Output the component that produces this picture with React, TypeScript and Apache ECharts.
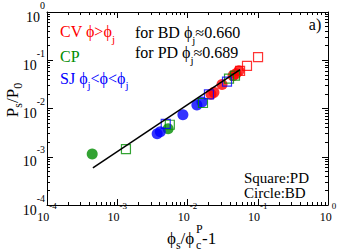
import React, { useEffect, useRef } from 'react';
import * as echarts from 'echarts';

const FONT = "'Liberation Serif', 'DejaVu Serif', serif";
const RED = '#ff0000';
const GREEN = '#008c00';
const BLUE = '#0000ff';

// axis ticks (decades, log axes)
const decades = [1e-4, 1e-3, 1e-2, 1e-1, 1];
const minorMultipliers = [2, 3, 4, 5, 6, 7, 8, 9];
const minorTicks = decades
  .slice(0, -1)
  .flatMap((d) => minorMultipliers.map((m) => +(d * m).toPrecision(3)));

// Circle: BD
const cvCirclesBD = [
  [0.0216, 0.0197],
  [0.0238, 0.0216],
  [0.031, 0.0314],
  [0.0445, 0.048],
  [0.049, 0.0526],
  [0.054, 0.0605],
];
const cpCirclesBD = [
  [4.4e-4, 1.14e-3],
  [5.3e-3, 3.8e-3],
];
const sjCirclesBD = [
  [4.1e-3, 3.3e-3],
  [3.7e-3, 3.0e-3],
  [8.6e-3, 7.4e-3],
  [0.0136, 0.0118],
  [0.0161, 0.0136],
];
// Square: PD
const cvSquaresPD = [
  [0.056, 0.06],
  [0.0703, 0.0764],
  [0.101, 0.116],
];
const cpSquaresPD = [
  [1.33e-3, 1.44e-3],
  [5.6e-3, 4.6e-3],
  [0.0166, 0.013],
  [0.039, 0.0416],
  [0.0474, 0.0479],
];
const sjSquaresPD = [
  [4.9e-3, 4.8e-3],
  [0.0202, 0.0197],
  [0.0365, 0.0361],
];
// fitted power law
const fitLine = [
  [4.5e-4, 5.9e-4],
  [0.056, 0.064],
];

const expOf = (v: number) => Math.round(Math.log10(v));

export default function App() {
  const ref = useRef<HTMLDivElement>(null);
  useEffect(() => {
    if (!ref.current) return;
    const chart = echarts.init(ref.current, null, { renderer: 'svg' });
    const base: any = {
      type: 'log',
      logBase: 10,
      min: 1e-4,
      max: 1,
      gridIndex: 0,
      splitLine: { show: false },
      minorTick: { show: false },
      minorSplitLine: { show: false },
    };
    const lineOn = { show: true, onZero: false, lineStyle: { color: '#000', width: 1 } };
    const majorTick = { show: true, inside: true, length: 6, customValues: decades, lineStyle: { color: '#000', width: 1 } };
    const minorTick = { show: true, inside: true, length: 3, customValues: minorTicks, lineStyle: { color: '#000', width: 1 } };
    const xRich = {
      b: { fontSize: 12, fontFamily: FONT, color: '#000', lineHeight: 22, verticalAlign: 'bottom' },
      s: { fontSize: 9, fontFamily: FONT, color: '#000', lineHeight: 10, verticalAlign: 'top' },
    };
    const yRich = {
      b: { fontSize: 14, fontFamily: FONT, color: '#000', lineHeight: 24, verticalAlign: 'bottom' },
      s: { fontSize: 10, fontFamily: FONT, color: '#000', lineHeight: 10, verticalAlign: 'top' },
    };
    const fmt = (v: number) => `{b|10}{s|${expOf(v)}}`;

    const sq = (data: number[][], color: string) => ({
      type: 'scatter',
      data,
      symbol: 'rect',
      symbolSize: 9,
      z: 3,
      itemStyle: { color: 'rgba(0,0,0,0)', borderColor: color, borderWidth: 1.2 },
    });
    const ci = (data: number[][], color: string) => ({
      type: 'scatter',
      data,
      symbol: 'circle',
      symbolSize: 11,
      z: 2,
      itemStyle: { color },
    });

    const richText = (
      x: number,
      y: number,
      text: string,
      fill: string,
      size = 16,
      subSize = 11,
      lh = 21,
      extra: any = {}
    ) => ({
      type: 'text',
      x,
      y,
      ...extra,
      style: {
        text,
        fill,
        fontFamily: FONT,
        fontSize: size,
        align: extra.align || 'left',
        verticalAlign: 'top',
        rich: {
          n: { fontSize: size, fontFamily: FONT, fill, lineHeight: size, verticalAlign: 'top' },
          sub: { fontSize: subSize, fontFamily: FONT, fill, lineHeight: lh, verticalAlign: 'bottom' },
        },
      },
    });
    const plainText = (x: number, y: number, text: string, size = 16, align = 'left') => ({
      type: 'text',
      x,
      y,
      style: { text, fill: '#000', fontFamily: FONT, fontSize: size, align, verticalAlign: 'middle' },
    });

    chart.setOption({
      animation: false,
      backgroundColor: '#fff',
      grid: { left: 47, right: 12, top: 8, bottom: 46, containLabel: false },
      xAxis: [
        { ...base, position: 'bottom', axisLine: lineOn, axisTick: majorTick, axisLabel: { show: true, customValues: decades, formatter: fmt, rich: xRich, margin: -4 } },
        { ...base, position: 'bottom', axisLine: { show: false }, axisTick: minorTick, axisLabel: { show: false } },
        { ...base, position: 'top', axisLine: lineOn, axisTick: majorTick, axisLabel: { show: false } },
        { ...base, position: 'top', axisLine: { show: false }, axisTick: minorTick, axisLabel: { show: false } },
      ],
      yAxis: [
        { ...base, position: 'left', axisLine: lineOn, axisTick: majorTick, axisLabel: { show: true, customValues: decades, formatter: fmt, rich: yRich, margin: 2 } },
        { ...base, position: 'left', axisLine: { show: false }, axisTick: minorTick, axisLabel: { show: false } },
        { ...base, position: 'right', axisLine: lineOn, axisTick: majorTick, axisLabel: { show: false } },
        { ...base, position: 'right', axisLine: { show: false }, axisTick: minorTick, axisLabel: { show: false } },
      ],
      series: [
        ci(cpCirclesBD, GREEN),
        ci(sjCirclesBD, BLUE),
        ci(cvCirclesBD, RED),
        sq(cpSquaresPD, GREEN),
        sq(sjSquaresPD, BLUE),
        sq(cvSquaresPD, RED),
        {
          type: 'line',
          data: fitLine,
          symbol: 'none',
          z: 5,
          lineStyle: { color: '#000', width: 1.5 },
        },
      ],
      graphic: [
        richText(60, 23, '{n|CV ϕ>ϕ}{sub|j}', RED, 16, 11, 21),
        richText(60, 48, '{n|CP}', GREEN, 16, 11, 21),
        richText(60, 70, '{n|SJ ϕ}{sub|j}{n|<ϕ<ϕ}{sub|j}', BLUE, 16, 11, 20),
        richText(135, 24, '{n|for BD ϕ}{sub|j}{n|≈0.660}', '#000', 16, 11, 21),
        richText(135, 44, '{n|for PD ϕ}{sub|j}{n|≈0.689}', '#000', 16, 11, 21),
        plainText(315, 24, 'a)', 16, 'center'),
        plainText(244, 178, 'Square:PD', 15),
        plainText(244, 193, 'Circle:BD', 15),
        richText(167, 229.5, '{n|ϕ}{sub|s}{n|/ϕ}', '#000', 17, 12, 21.5),
        plainText(196, 229, 'P', 12),
        plainText(196, 245, 'c', 12),
        plainText(202, 238, '-1', 17),
        richText(3.5, 100, '{n|P}{sub|s}{n|/P}{sub|0}', '#000', 17, 12, 20, {
          rotation: Math.PI / 2,
          align: 'center',
        }),
      ],
    });
    return () => chart.dispose();
  }, []);
  return <div ref={ref} style={{ position: 'fixed', left: 0, top: 0, width: 340, height: 251 }} />;
}
